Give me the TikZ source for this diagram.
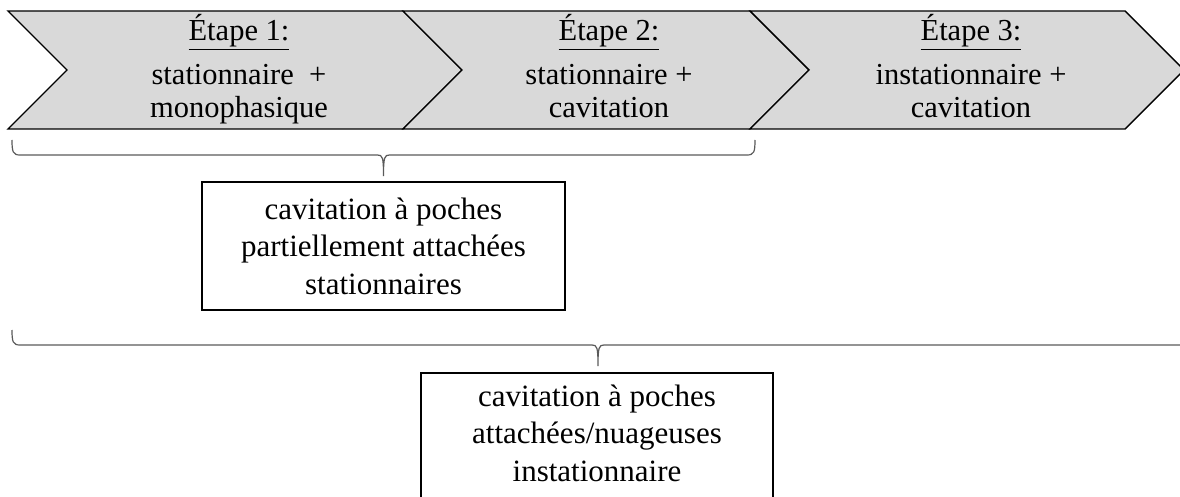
\documentclass[tikz,border=0pt]{standalone}
\usepackage{fontspec}
\setmainfont{Liberation Serif}
\usepackage{xcolor}
\usetikzlibrary{positioning}
\definecolor{etapegris}{HTML}{D9D9D9}
\definecolor{accolgris}{HTML}{5A5A5A}
\tikzset{
  etape/.style={fill=etapegris,draw=black,line width=1.4pt,line join=miter},
  etapetxt/.style={align=center,inner sep=0pt,font=\fontsize{30.5}{33}\selectfont},
  boite/.style={draw=black,line width=1.6pt,align=center,font=\fontsize{31}{37.5}\selectfont},
  accol/.style={draw=accolgris,line width=1.2pt},
}
% accolade facon Word : x gauche, x droite, x pointe, y haut
\newcommand{\accolade}[4]{%
  \draw[accol] (#1,#4) .. controls (#1,#4+12) and (#1+1,#4+15) .. (#1+8,#4+15)
    -- (#3-6,#4+15) .. controls (#3-1,#4+15) and (#3,#4+17) .. (#3,#4+36)
    .. controls (#3,#4+17) and (#3+1,#4+15) .. (#3+6,#4+15)
    -- (#2-8,#4+15) .. controls (#2-1,#4+15) and (#2,#4+12) .. (#2,#4);}

\begin{document}
\begin{tikzpicture}[x=1pt,y=-1pt]
  \useasboundingbox (0,0) rectangle (1180,497);
  % les trois etapes
  \foreach \g/\d/\cx/\corps [count=\i] in {
      8/403/239/{stationnaire\ \ +\\monophasique},
      403/750/609/{stationnaire +\\cavitation},
      750/1125/971/{instationnaire +\\cavitation}} {
    \draw[etape] (\g,11) -- (\d,11) -- (\d+59,70) -- (\d,129) -- (\g,129) -- (\g+59,70) -- cycle;
    \node[etapetxt,anchor=base] (etape\i) at (\cx,118) {\underline{Étape \i:}\\[11pt]\corps};
  }
  % accolades
  \accolade{12}{755}{383.5}{140}
  \accolade{12}{1195}{598}{330}
  % regimes de cavitation
  \node[boite,minimum width=363,minimum height=128] (partielle) at (383.5,246)
    {cavitation à poches\\partiellement attachées\\stationnaires};
  \node[boite,minimum width=352,inner ysep=12pt,anchor=north] (nuageuse) at (597,372)
    {cavitation à poches\\attachées/nuageuses\\instationnaire\rule[-40pt]{0pt}{0pt}};
\end{tikzpicture}
\end{document}
